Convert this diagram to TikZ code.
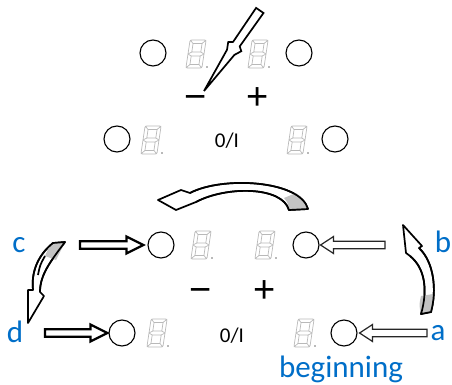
\documentclass[tikz,border=0pt]{standalone}
\usepackage{fontspec}
\setmainfont{Carlito}
\newfontfamily\symfont{Liberation Sans}
\usetikzlibrary{calc}
\definecolor{lblue}{RGB}{0,110,200}
\definecolor{seggray}{RGB}{185,185,185}
\definecolor{tailgray}{RGB}{195,195,195}
\newcommand{\blockarrow}[4]{%
  \draw[#1] let \p1=(#2), \p2=(#3), \n1={sign(\x2-\x1)} in
    (\x1,{\y2+3.7pt}) -- ({\x2-\n1*#4},{\y2+3.7pt}) -- ({\x2-\n1*#4},{\y2+8.5pt})
    -- (\x2,\y2) -- ({\x2-\n1*#4},{\y2-8.5pt}) -- ({\x2-\n1*#4},{\y2-3.7pt})
    -- (\x1,{\y2-3.7pt}) -- cycle;}
\tikzset{
  circ/.style={draw, circle, minimum size=26pt, inner sep=0pt, line width=1.1pt},
  lbl/.style={text=lblue, inner sep=0pt, font=\fontsize{31}{31}\selectfont, anchor=base},
  ctl/.style={inner sep=0pt, font=\fontsize{21}{21}\selectfont, anchor=base},
  pm/.style={inner sep=0pt, font=\symfont\fontsize{38}{38}\selectfont, anchor=base},
  curvy/.style={draw=black, fill=white, line width=1.7pt, line join=round},
  thickarr/.style={draw=black, fill=white, line width=2.2pt, line join=miter},
  thinarr/.style={draw=black!85, fill=white, line width=1.2pt, line join=miter},
  digit/.pic={
    \begin{scope}[xslant=0.15, draw=seggray, line width=0.7pt]
      \draw[rounded corners=1.5pt] (-8,-14) rectangle (8,14);
      \draw (-4.5,-10.5) rectangle (4.5,-2);
      \draw (-4.5,2) rectangle (4.5,10.5);
      \draw (-8,-14)--(-4.5,-10.5) (8,-14)--(4.5,-10.5) (-8,14)--(-4.5,10.5) (8,14)--(4.5,10.5);
      \draw (-8,0)--(-4.5,-2) (-8,0)--(-4.5,2) (8,0)--(4.5,-2) (8,0)--(4.5,2);
    \end{scope}
    \fill[seggray] (9.5,12) rectangle (11.5,14);
  }
}
\begin{document}
\begin{tikzpicture}[x=1pt, y=-1pt]
\useasboundingbox (0,0) rectangle (452,385);
% ---------- row 1 ----------
\node[circ] (c1a) at (153,53) {};
\node[circ] (c1b) at (299,53) {};
\pic at (196,54) {digit};
\pic at (258,54) {digit};
\node[pm] (m1) at (196,110) {−};
\node[pm] (p1) at (258,110) {+};
% pen pointer
\draw[curvy, line join=miter] (256.1,7.9) -- (263.5,13.0) -- (239.7,46.4) -- (241.3,51.2)
  -- (234.4,54.9) -- (204,91) -- (227.0,49.8) -- (228.2,42.1) -- (233.1,41.9) -- cycle;
% ---------- row 2 ----------
\node[circ] (c2a) at (117,139) {};
\node[circ] (c2b) at (335,139) {};
\pic at (151,140) {digit};
\pic at (297,140) {digit};
\node[ctl] (o2) at (227,147) {0/I};
% ---------- top curved arrow ----------
\draw[curvy] (308,209) .. controls (300,180) and (222,176) .. (190,193) -- (181,190) -- (158,200)
  -- (176,210) -- (196,202) .. controls (226,186) and (282,186) .. (289,210) -- cycle;
\fill[tailgray] (289,210) .. controls (288,203) .. (284,198) -- (296,193) .. controls (304,199) .. (308,209) -- cycle;
\draw[line width=1.7pt, line join=round] (308,209) .. controls (300,180) and (222,176) .. (190,193);
\draw[line width=1.7pt, line join=round] (196,202) .. controls (226,186) and (282,186) .. (289,210) -- (308,209);
% ---------- row 3 ----------
\node[lbl] (lc) at (19,252) {c};
\node[lbl] (lb) at (443,252) {b};
\node[circ] (c3a) at (161,245) {};
\node[circ] (c3b) at (306,245) {};
\pic at (201,245) {digit};
\pic at (265,245) {digit};
\node[pm] (m3) at (201,302) {−};
\node[pm] (p3) at (265,302) {+};
\coordinate (cs) at (80,245);
\coordinate (bs) at (385,245);
\blockarrow{thickarr}{cs}{[xshift=-4pt]c3a.west}{17pt}
\blockarrow{thinarr}{bs}{[xshift=1pt]c3b.east}{13pt}
% left curved arrow (c -> d)
\draw[curvy] (53,243) .. controls (38,255) and (31,272) .. (33,290) -- (28,290) -- (28,323)
  -- (44,296) -- (40,292) .. controls (40,275) and (50,262) .. (65,242) -- cycle;
\fill[tailgray] (53,243) .. controls (49,247) .. (45,256) -- (56,260) .. controls (60,251) .. (65,242) -- cycle;
\draw[line width=1.7pt, line join=round] (45,256) .. controls (40,265) .. (38,275);
\draw[line width=1.7pt, line join=round] (33,290) .. controls (31,272) and (38,255) .. (53,243) -- (65,242) .. controls (50,262) and (40,275) .. (40,292);
% right curved arrow (a -> b)
\draw[curvy] (431,312) .. controls (437,290) and (434,262) .. (419,248) -- (422,246) -- (403,225)
  -- (406,253) -- (410,256) .. controls (425,268) and (428,290) .. (421,314) -- cycle;
\fill[tailgray] (421,314) .. controls (419,305) .. (421,296) -- (433,294) .. controls (434,303) .. (431,312) -- cycle;
\draw[line width=1.7pt, line join=round] (419,248) .. controls (434,262) and (437,290) .. (431,312) -- (421,314) .. controls (428,290) and (425,268) .. (410,256);
% ---------- row 4 ----------
\node[lbl] (ld) at (15,342) {d};
\node[lbl] (la) at (438,340) {a};
\node[lbl] (lbeg) at (341,377) {beginning};
\node[circ] (c4a) at (122,333) {};
\node[circ] (c4b) at (344,333) {};
\pic at (157,333) {digit};
\pic at (304,333) {digit};
\node[ctl] (o4) at (232,342) {0/I};
\coordinate (ds) at (45,333);
\coordinate (as) at (427,333);
\blockarrow{thickarr}{ds}{[xshift=-1pt]c4a.west}{17pt}
\blockarrow{thinarr}{as}{[xshift=2pt]c4b.east}{13pt}
\end{tikzpicture}
\end{document}
